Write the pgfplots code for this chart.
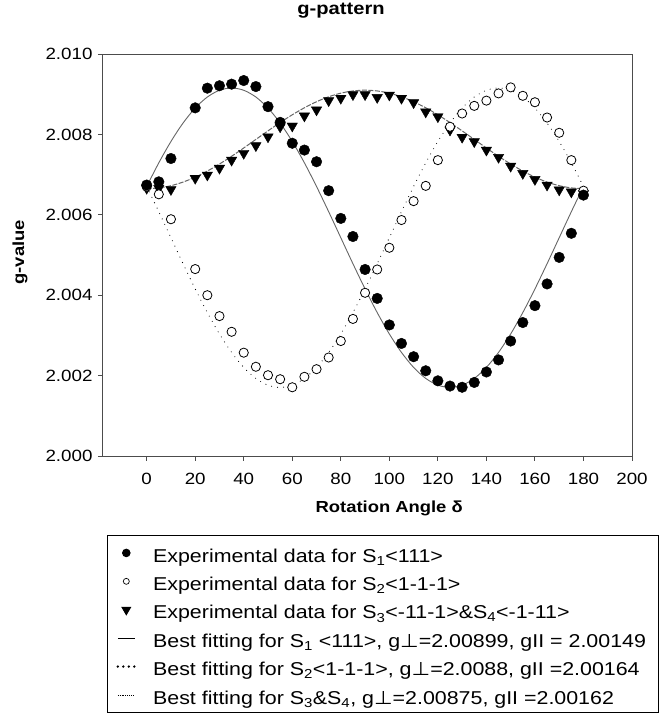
\documentclass[border=0pt]{standalone}
\usepackage{fontspec}
\setmainfont{Liberation Sans}[FakeStretch=1.15]
\newfontfamily\dejavu{DejaVu Sans}[FakeStretch=1.15]
\usepackage{pgfplots}
\pgfplotsset{compat=1.18}
\newcommand{\perpg}{{\dejavu\symbol{"22A5}}}
\begin{document}
\begin{tikzpicture}[x=1pt,y=1pt]
\path[use as bounding box] (-103,-262) rectangle (563,456);
\begin{axis}[
  at={(0,0)}, anchor=south west,
  scale only axis, width=529pt, height=402pt,
  xmin=-18, xmax=200, ymin=2.000, ymax=2.010,
  xtick={0,20,40,60,80,100,120,140,160,180,200},
  ytick={2.000,2.002,2.004,2.006,2.008,2.010},
  scaled y ticks=false,
  yticklabel style={/pgf/number format/fixed, /pgf/number format/fixed zerofill, /pgf/number format/precision=3, xshift=-2pt},
  xticklabel style={yshift=-9pt},
  /pgf/number format/assume math mode=true,
  tick label style={font=\fontsize{16.3}{18}\selectfont},
  axis line style={black!70, line width=1pt},
  tick style={black!70, line width=0.9pt},
  tick align=outside, major tick length=5pt,
  xtick pos=bottom, ytick pos=left,
  title={\textbf{g-pattern}},
  title style={at={(0.45,1.094)}, anchor=center, yshift=0pt, font=\fontsize{17.5}{18}\selectfont},
  xlabel={\textbf{Rotation Angle δ}},
  xlabel style={at={(0.541,-0.13)}, anchor=center, font=\fontsize{16}{18}\selectfont},
  ylabel={\textbf{g-value}},
  ylabel style={at={(-0.157,0.507)}, anchor=center, font=\fontsize{16}{18}\selectfont},
  legend style={at={(0.0076,-0.1965)}, anchor=north west, draw=black, line width=0.9pt,
    font=\fontsize{18.6}{20}\selectfont, inner xsep=9pt, inner ysep=7.5pt, column sep=14pt,
    nodes={text height=19.2pt, text depth=0.8pt, inner ysep=0pt, inner xsep=3pt}, row sep=8.4pt},
  legend cell align=left,
]
\addlegendimage{only marks, mark=*, mark size=3.8pt, black}
\addlegendentry{Experimental data for S\textsubscript{1}<111>}
\addlegendimage{only marks, mark=*, mark size=3pt, black, line width=0.7pt, mark options={fill=white}}
\addlegendentry{Experimental data for S\textsubscript{2}<1-1-1>}
\addlegendimage{only marks, mark=triangle*, mark size=5pt, black, mark options={rotate=180}}
\addlegendentry{Experimental data for S\textsubscript{3}<-11-1>\&S\textsubscript{4}<-1-11>}
\addlegendimage{black, line width=0.8pt}
\addlegendentry{Best fitting for S\textsubscript{1} <111>, g\perpg=2.00899, gII = 2.00149}
\addlegendimage{black, line width=2.6pt, line cap=round, dash pattern=on 0pt off 5.5pt}
\addlegendentry{Best fitting for S\textsubscript{2}<1-1-1>, g\perpg=2.0088, gII =2.00164}
\addlegendimage{black, line width=0.7pt, dash pattern=on 0.7pt off 1.2pt}
\addlegendentry{Best fitting for S\textsubscript{3}\&S\textsubscript{4}, g\perpg=2.00875, gII =2.00162}

% fitted curves
\addplot[forget plot, black!60, line width=0.9pt, smooth] coordinates {
(0,2.006704) (5,2.007293) (10,2.007824) (15,2.008283) (20,2.008656) (25,2.008930)
(30,2.009098) (35,2.009155) (40,2.009098) (45,2.008930) (50,2.008656) (55,2.008283)
(60,2.007824) (65,2.007293) (70,2.006704) (75,2.006077) (80,2.005430) (85,2.004783)
(90,2.004156) (95,2.003568) (100,2.003036) (105,2.002577) (110,2.002204) (115,2.001930)
(120,2.001762) (125,2.001705) (130,2.001762) (135,2.001930) (140,2.002204) (145,2.002577)
(150,2.003036) (155,2.003568) (160,2.004156) (165,2.004783) (170,2.005430) (175,2.006077)
(180,2.006704)};
\addplot[forget plot, black, line width=1.1pt, line cap=round, dash pattern=on 0pt off 6pt, smooth] coordinates {
(0,2.006704) (5,2.006077) (10,2.005430) (15,2.004783) (20,2.004156) (25,2.003568)
(30,2.003036) (35,2.002577) (40,2.002204) (45,2.001930) (50,2.001762) (55,2.001705)
(60,2.001762) (65,2.001930) (70,2.002204) (75,2.002577) (80,2.003036) (85,2.003568)
(90,2.004156) (95,2.004783) (100,2.005430) (105,2.006077) (110,2.006704) (115,2.007293)
(120,2.007824) (125,2.008283) (130,2.008656) (135,2.008930) (140,2.009098) (145,2.009155)
(150,2.009098) (155,2.008930) (160,2.008656) (165,2.008283) (170,2.007824) (175,2.007293)
(180,2.006704)};
\addplot[forget plot, black!60, line width=1pt, dash pattern=on 5pt off 1.5pt, smooth] coordinates {
(0,2.006650) (5,2.006669) (10,2.006724) (15,2.006814) (20,2.006937) (25,2.007088)
(30,2.007263) (35,2.007456) (40,2.007662) (45,2.007875) (50,2.008088) (55,2.008294)
(60,2.008488) (65,2.008662) (70,2.008813) (75,2.008936) (80,2.009026) (85,2.009081)
(90,2.009100) (95,2.009081) (100,2.009026) (105,2.008936) (110,2.008813) (115,2.008662)
(120,2.008488) (125,2.008294) (130,2.008088) (135,2.007875) (140,2.007662) (145,2.007456)
(150,2.007263) (155,2.007088) (160,2.006937) (165,2.006814) (170,2.006724) (175,2.006669)
(180,2.006650)};

% S3 & S4 data
\addplot[forget plot, only marks, mark=triangle*, mark size=6pt, black, mark options={rotate=180}] coordinates {
(0,2.00666) (5,2.00666) (10,2.00663) (20,2.00691) (25,2.00699) (30,2.00716) (35,2.00736)
(40,2.00753) (45,2.00772) (50,2.00794) (55,2.00819) (60,2.00821) (65,2.00846) (70,2.00861)
(75,2.00884) (80,2.00890) (85,2.00899) (90,2.00899) (95,2.00892) (100,2.00898) (105,2.00890)
(110,2.00879) (115,2.00856) (120,2.00844) (125,2.00811) (130,2.00793) (135,2.00782)
(140,2.00761) (145,2.00743) (150,2.00721) (155,2.00703) (160,2.00688) (165,2.00674)
(170,2.00662) (175,2.00657) (180,2.00653)};
% S2 data
\addplot[forget plot, only marks, mark=*, mark size=4.6pt, black, line width=0.8pt, mark options={fill=white}] coordinates {
(0,2.00670) (5,2.00651) (10,2.00589) (20,2.00465) (25,2.00400) (30,2.00348) (35,2.00309)
(40,2.00257) (45,2.00222) (50,2.00201) (55,2.00191) (60,2.00171) (65,2.00197) (70,2.00216)
(75,2.00245) (80,2.00286) (85,2.00341) (90,2.00406) (95,2.00464) (100,2.00518) (105,2.00587)
(110,2.00634) (115,2.00672) (120,2.00736) (125,2.00819) (130,2.00852) (135,2.00871)
(140,2.00884) (145,2.00902) (150,2.00917) (155,2.00896) (160,2.00880) (165,2.00842)
(170,2.00804) (175,2.00736) (180,2.00660)};
% S1 data
\addplot[forget plot, only marks, mark=*, mark size=5.3pt, black] coordinates {
(0,2.00674) (5,2.00682) (10,2.00740) (20,2.00866) (25,2.00915) (30,2.00921) (35,2.00925)
(40,2.00934) (45,2.00919) (50,2.00869) (55,2.00830) (60,2.00778) (65,2.00761) (70,2.00732)
(75,2.00660) (80,2.00591) (85,2.00546) (90,2.00464) (95,2.00392) (100,2.00326) (105,2.00280)
(110,2.00247) (115,2.00212) (120,2.00187) (125,2.00174) (130,2.00171) (135,2.00183)
(140,2.00209) (145,2.00239) (150,2.00286) (155,2.00332) (160,2.00374) (165,2.00428)
(170,2.00494) (175,2.00554) (180,2.00649)};
\end{axis}
\end{tikzpicture}
\end{document}
